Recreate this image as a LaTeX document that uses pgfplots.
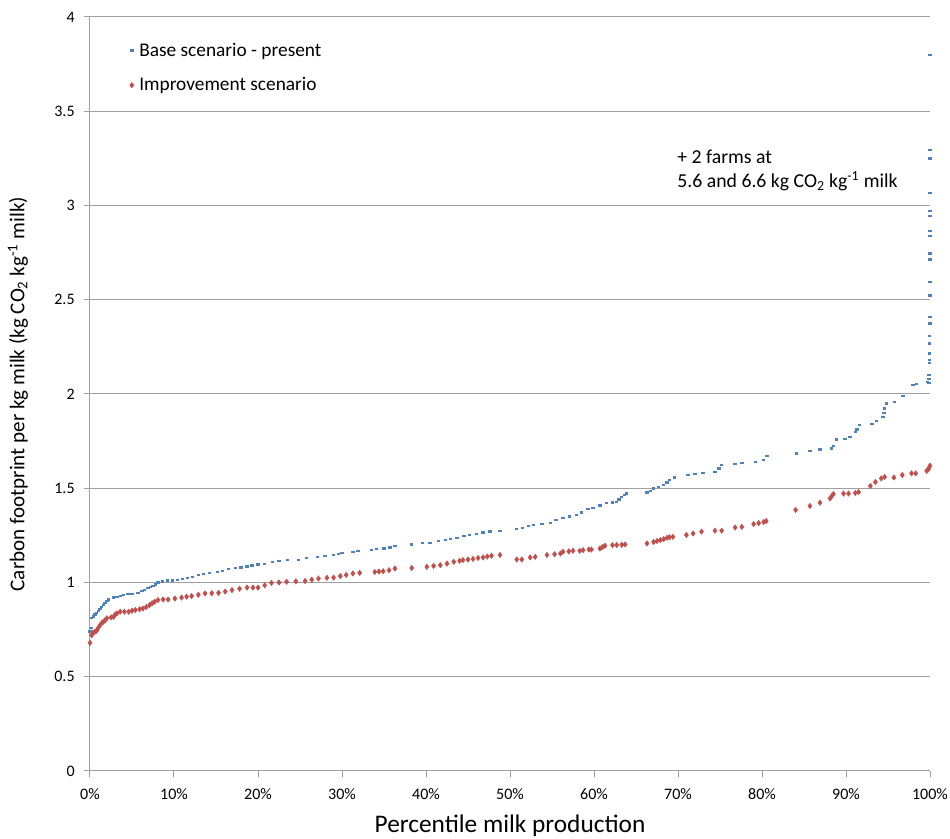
\documentclass[border=0pt]{standalone}
\usepackage{pgfplots}
\pgfplotsset{compat=1.18}
\usepackage{fontspec}
\setmainfont{Carlito}
\definecolor{exblue}{HTML}{4F81BD}
\definecolor{exred}{HTML}{C0504D}
\definecolor{gridgray}{HTML}{A0A0A0}
\begin{document}
\begin{tikzpicture}
\begin{axis}[
  name=ax,
  scale only axis,
  width=630pt, height=565.5pt,
  xmin=0, xmax=100, ymin=0, ymax=4,
  axis x line*=bottom, axis y line*=left,
  axis line style={gridgray, line width=0.75pt},
  xtick={0,10,...,100},
  xticklabels={0\%,10\%,20\%,30\%,40\%,50\%,60\%,70\%,80\%,90\%,100\%},
  ytick={0,0.5,1,1.5,2,2.5,3,3.5,4},
  yticklabels={0,0.5,1,1.5,2,2.5,3,3.5,4},
  tick align=outside, major tick length=4.5pt,
  tick style={gridgray, line width=0.75pt},
  ymajorgrids, major grid style={gridgray, line width=0.75pt},
  ticklabel style={font=\fontsize{12}{14}\selectfont},
  xticklabel style={yshift=-5.5pt},
  yticklabel style={xshift=-3.5pt},
  /pgf/number format/assume math mode=true,
  xlabel={Percentile milk production},
  xlabel style={font=\fontsize{19}{22}\selectfont, at={(axis description cs:0.5,-0.073)}, anchor=center},
  ylabel={Carbon footprint per kg milk (kg CO\textsubscript{2} kg\textsuperscript{-1} milk)},
  ylabel style={font=\fontsize{15.8}{18}\selectfont, at={(axis description cs:-0.0857,0.5)}, anchor=center},
  clip=false,
  legend cell align=left,
  legend style={at={(axis description cs:0.039,0.973)}, anchor=north west, draw=none, fill=none,
    font=\fontsize{14.5}{17}\selectfont, row sep=10.5pt},
  legend image code/.code={\draw[#1] plot coordinates {(0.12cm,0cm)}; \path (0cm,0cm) (0.24cm,0cm);},
]
\addplot[only marks, mark=-, mark size=1.3pt, color=exblue, mark options={line width=1.7pt}] coordinates {
(0.0,0.74) (0.1,0.76) (0.2,0.81) (0.4,0.82) (0.6,0.83) (0.8,0.84) (1.0,0.85) (1.2,0.86) (1.4,0.87)
(1.6,0.88) (1.8,0.89) (2.0,0.90) (2.2,0.91) (2.8,0.92) (3.2,0.925) (3.6,0.93) (4.0,0.935) (4.5,0.94)
(5.0,0.94) (5.7,0.945) (6.2,0.955) (6.5,0.96) (6.9,0.97) (7.2,0.975) (7.5,0.98) (7.8,0.99) (8.1,1.00)
(8.6,1.005) (9.2,1.01) (9.8,1.01) (10.4,1.015) (11.0,1.02) (11.6,1.025) (12.2,1.03) (12.9,1.04)
(13.5,1.045) (14.2,1.05) (15.2,1.055) (15.8,1.06) (16.5,1.07) (17.3,1.075) (18.0,1.08) (18.7,1.085)
(19.3,1.09) (20.0,1.095) (20.8,1.10) (21.7,1.11) (22.5,1.115) (23.5,1.118) (24.8,1.12) (25.8,1.13)
(27.1,1.135) (28.0,1.14) (29.0,1.145) (29.6,1.15) (30.0,1.155) (31.3,1.163) (31.9,1.168) (33.5,1.172)
(34.1,1.176) (35.0,1.18) (35.7,1.186) (36.3,1.194) (38.3,1.202) (39.6,1.208) (40.5,1.211) (41.5,1.22)
(42.3,1.225) (42.9,1.231) (43.7,1.238) (44.5,1.245) (45.2,1.252) (46.0,1.258) (46.8,1.265) (47.6,1.27)
(48.8,1.275) (50.8,1.284) (51.5,1.29) (52.2,1.30) (52.8,1.305) (53.8,1.31) (54.8,1.317) (55.5,1.33)
(56.3,1.341) (57.1,1.35) (57.9,1.358) (58.5,1.372) (59.3,1.39) (59.9,1.395) (60.7,1.408) (61.5,1.42)
(62.2,1.425) (62.7,1.428) (63.0,1.44) (63.3,1.455) (63.6,1.465) (63.9,1.472) (66.3,1.477) (66.7,1.485)
(67.1,1.499) (67.7,1.508) (68.3,1.517) (68.7,1.53) (69.0,1.544) (69.6,1.557) (71.2,1.570) (72.0,1.576)
(73.0,1.579) (74.4,1.588) (74.9,1.605) (75.2,1.623) (76.8,1.629) (77.6,1.635) (79.2,1.640) (80.2,1.65)
(80.6,1.671) (84.1,1.684) (85.7,1.698) (86.9,1.706) (88.3,1.711) (88.5,1.724) (88.9,1.759) (89.9,1.761)
(90.5,1.773) (91.1,1.80) (91.3,1.812) (91.6,1.835) (93.1,1.84) (93.6,1.857) (94.4,1.878) (94.5,1.90)
(94.6,1.923) (94.8,1.95) (95.8,1.959) (96.8,1.99) (98.0,2.048) (98.4,2.053) (99.7,2.065) (99.8,2.08)
(99.9,2.06) (99.9,2.078) (99.9,2.10) (99.95,2.163) (99.95,2.18) (99.95,2.215) (99.95,2.268) (99.95,2.307)
(100,2.374) (100,2.409) (100,2.523) (100,2.594) (100,2.714) (100,2.746) (100,2.838) (100,2.866)
(100,2.944) (100,2.972) (100,3.068) (100,3.25) (100,3.294) (100,3.80)
};
\addlegendentry{Base scenario - present}
\addplot[only marks, mark=diamond*, mark size=2pt, color=exred] coordinates {
(0.0,0.68) (0.2,0.72) (0.3,0.73) (0.4,0.733) (0.6,0.74) (0.8,0.744) (1.0,0.76) (1.2,0.774) (1.4,0.785)
(1.6,0.792) (1.8,0.80) (2.0,0.81) (2.5,0.815) (2.8,0.818) (3.0,0.83) (3.2,0.836) (3.6,0.845) (4.1,0.845)
(4.6,0.845) (5.0,0.85) (5.4,0.854) (5.9,0.858) (6.3,0.862) (6.7,0.87) (7.1,0.88) (7.4,0.89) (7.7,0.898)
(8.1,0.907) (8.7,0.91) (9.3,0.91) (10.1,0.915) (10.9,0.92) (11.5,0.925) (12.1,0.928) (12.9,0.935)
(13.7,0.942) (14.5,0.943) (15.3,0.945) (16.1,0.952) (16.9,0.96) (17.8,0.967) (18.7,0.973) (19.4,0.973)
(20.0,0.973) (20.8,0.985) (21.6,0.998) (22.5,1.00) (23.4,1.004) (24.5,1.006) (25.6,1.008) (26.4,1.015)
(27.2,1.021) (28.2,1.025) (29.0,1.026) (29.8,1.034) (30.5,1.04) (31.3,1.048) (32.1,1.051) (33.9,1.056)
(34.4,1.058) (34.9,1.06) (35.6,1.065) (36.3,1.074) (38.3,1.077) (40.1,1.083) (40.9,1.088) (41.7,1.092)
(42.5,1.10) (43.3,1.11) (44.0,1.115) (44.4,1.119) (45.0,1.122) (45.6,1.125) (46.2,1.13) (46.8,1.133)
(47.3,1.138) (47.8,1.142) (48.8,1.146) (50.8,1.122) (51.4,1.122) (52.4,1.133) (53.0,1.136) (54.4,1.146)
(55.3,1.15) (56.0,1.154) (56.3,1.163) (57.0,1.165) (57.5,1.168) (58.3,1.168) (58.7,1.172) (59.4,1.175)
(59.7,1.175) (60.7,1.18) (61.0,1.188) (61.3,1.195) (62.2,1.198) (62.7,1.199) (63.3,1.20) (63.7,1.202)
(66.3,1.207) (67.1,1.215) (67.5,1.22) (67.9,1.225) (68.3,1.23) (68.7,1.237) (69.0,1.24) (69.4,1.242)
(71.0,1.252) (71.8,1.26) (72.8,1.27) (74.4,1.275) (75.2,1.275) (76.8,1.292) (77.6,1.295) (79.0,1.31)
(79.6,1.315) (80.2,1.321) (80.5,1.326) (84.0,1.385) (85.7,1.406) (86.9,1.423) (88.1,1.446) (88.3,1.458)
(88.5,1.469) (89.7,1.472) (90.3,1.472) (91.1,1.475) (91.5,1.48) (92.9,1.512) (93.5,1.533) (94.2,1.552)
(94.6,1.56) (95.7,1.557) (96.7,1.570) (97.8,1.579) (98.3,1.579) (99.6,1.592) (99.8,1.60) (99.9,1.61)
(100,1.62)
};
\addlegendentry{Improvement scenario}
\node[anchor=north west, align=left, inner sep=0pt, font=\fontsize{14.8}{18}\selectfont]
  at (axis cs:69.9,3.294) {+ 2 farms at\\5.6 and 6.6 kg CO\textsubscript{2} kg\textsuperscript{-1} milk};
\end{axis}
\pgfresetboundingbox
\path[use as bounding box] ([shift={(-67.5pt,-51pt)}]ax.south west) rectangle ([shift={(15pt,12.75pt)}]ax.north east);
\end{tikzpicture}
\end{document}
